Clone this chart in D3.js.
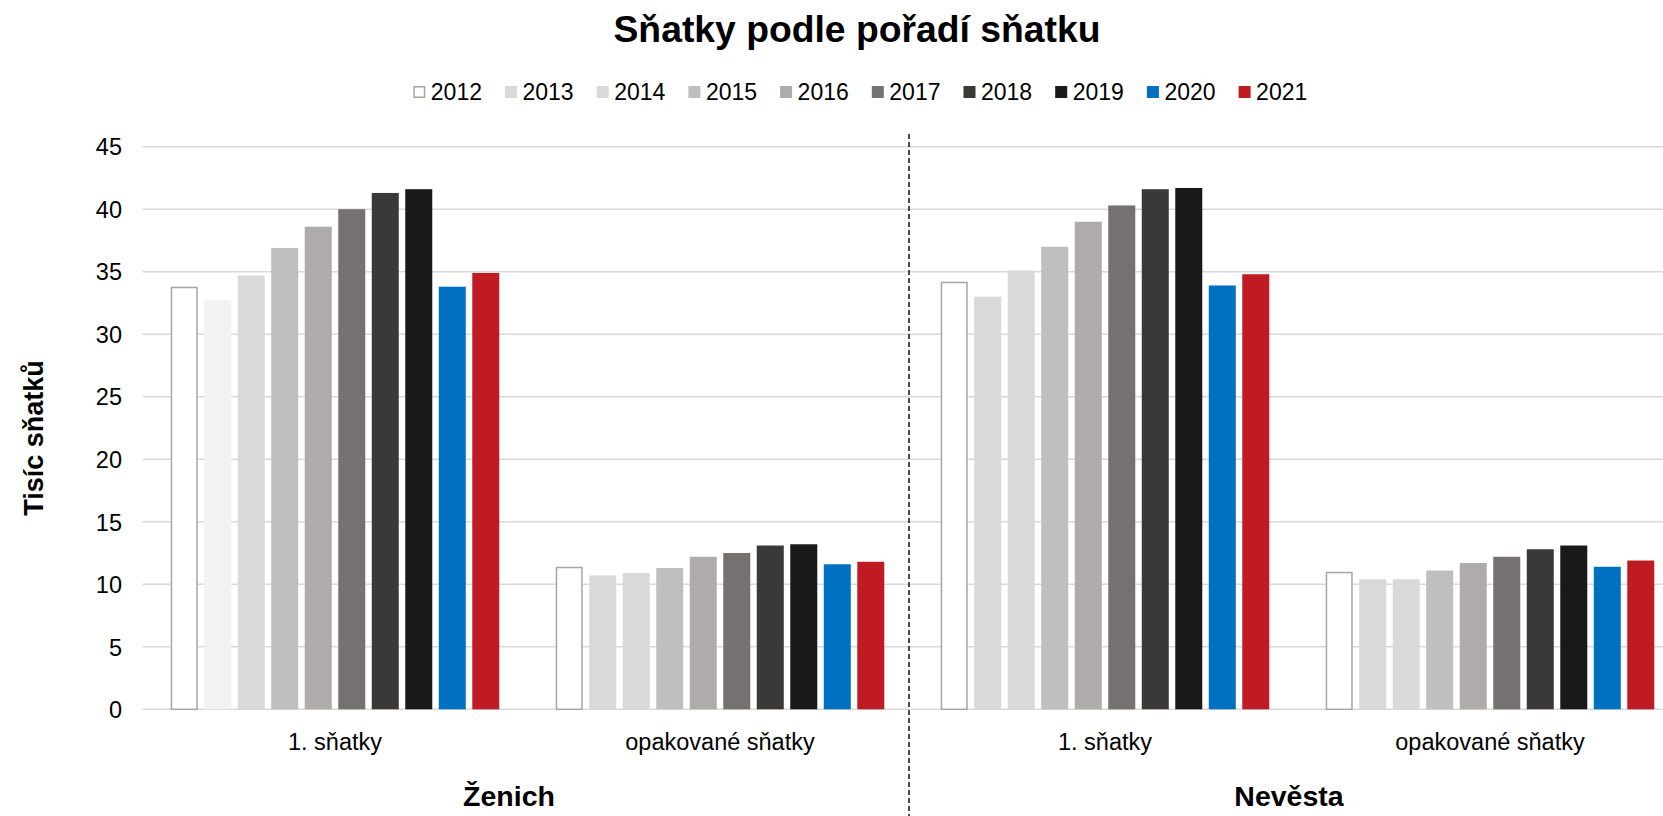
<!DOCTYPE html>
<html>
<head>
<meta charset="utf-8">
<script src="https://cdn.jsdelivr.net/npm/d3@7"></script>
<style>
  html, body { margin: 0; padding: 0; background: #fff; }
  svg { display: block; font-family: "Liberation Sans", Arial, sans-serif; }
</style>
</head>
<body>
<svg id="chart" width="1663" height="816"></svg>
<script>
// ---- data ----
const years = ["2012","2013","2014","2015","2016","2017","2018","2019","2020","2021"];
const categories = ["Ženich|1. sňatky", "Ženich|opakované sňatky", "Nevěsta|1. sňatky", "Nevěsta|opakované sňatky"];
const categoryLabels = ["1. sňatky", "opakované sňatky", "1. sňatky", "opakované sňatky"];
const groups = ["Ženich", "Nevěsta"];
const zenichPrvni     = [33.8, 32.7, 34.7, 36.9, 38.6, 40.0, 41.3, 41.6, 33.8, 34.9];
const zenichOpakovane = [11.4, 10.7, 10.9, 11.3, 12.2, 12.5, 13.1, 13.2, 11.6, 11.8];
const nevestaPrvni    = [34.2, 33.0, 35.1, 37.0, 39.0, 40.3, 41.6, 41.7, 33.9, 34.8];
const nevestaOpakovane= [11.0, 10.4, 10.4, 11.1, 11.7, 12.2, 12.8, 13.1, 11.4, 11.9];
const yTicks = [0, 5, 10, 15, 20, 25, 30, 35, 40, 45];
const colors = ["#ffffff","#d9d9d9","#d9d9d9","#bfbfbf","#afabab","#767171","#3b3838","#191919","#0070c0","#c01b23"];
// one data point in the source has its own fill (2013, Ženich 1. sňatky)
const pointOverrides = [{cat: 0, year: 1, color: "#f2f2f2"}];

const seriesByCat = [zenichPrvni, zenichOpakovane, nevestaPrvni, nevestaOpakovane];

// ---- layout ----
const svg = d3.select("#chart");
const W = 1663, H = 816;
const plotLeft = 142.5, bandStep = 385;
const yTop = 146.7, yBottom = 709.3;

const x0 = d3.scaleBand().domain(categories).range([plotLeft, plotLeft + bandStep * categories.length]).paddingInner(0).paddingOuter(0);
const x1 = d3.scaleBand().domain(years).range([0, x0.bandwidth()]).paddingInner(0.194).paddingOuter(0.842);
const y = d3.scaleLinear().domain([0, 45]).range([yBottom, yTop]);

// gridlines
svg.append("g").selectAll("line").data(yTicks).join("line")
  .attr("x1", plotLeft).attr("x2", W)
  .attr("y1", d => y(d)).attr("y2", d => y(d))
  .attr("stroke", "#d9d9d9").attr("stroke-width", 1.5);

// y axis labels
const yAxis = d3.axisLeft(y).tickValues(yTicks).tickSize(0).tickPadding(0);
const yg = svg.append("g").attr("transform", `translate(122,0)`).call(yAxis);
yg.select(".domain").remove();
yg.selectAll("text").attr("font-size", 23.5).attr("fill", "#000")
  .attr("font-family", "'Liberation Sans', Arial, sans-serif").attr("dy", "0.35em");

// bars
const rows = [];
seriesByCat.forEach((vals, ci) => {
  vals.forEach((v, yi) => {
    const ov = pointOverrides.find(o => o.cat === ci && o.year === yi);
    rows.push({cat: categories[ci], year: years[yi], value: v, color: ov ? ov.color : colors[yi], yi});
  });
});
svg.append("g").selectAll("rect").data(rows).join("rect")
  .attr("x", d => x0(d.cat) + x1(d.year) + (d.yi === 0 ? 0.75 : 0))
  .attr("width", d => x1.bandwidth() - (d.yi === 0 ? 1.5 : 0))
  .attr("y", d => y(d.value) + (d.yi === 0 ? 0.75 : 0))
  .attr("height", d => yBottom - y(d.value) - (d.yi === 0 ? 0.75 : 0))
  .attr("fill", d => d.color)
  .attr("stroke", d => d.yi === 0 ? "#a6a6a6" : "none")
  .attr("stroke-width", 1.5);

// category labels
svg.append("g").selectAll("text").data(categories).join("text")
  .attr("x", d => x0(d) + x0.bandwidth() / 2)
  .attr("y", 750)
  .attr("text-anchor", "middle")
  .attr("font-size", 23.5)
  .text((d, i) => categoryLabels[i]);

// group labels
const groupX = [509, 1289];
svg.append("g").selectAll("text").data(groups).join("text")
  .attr("x", (d, i) => groupX[i])
  .attr("y", 806)
  .attr("text-anchor", "middle")
  .attr("font-size", 28.5)
  .attr("font-weight", "bold")
  .text(d => d);

// dashed separator
svg.append("line")
  .attr("x1", 909).attr("x2", 909).attr("y1", 134).attr("y2", H)
  .attr("stroke", "#111").attr("stroke-width", 1.5).attr("stroke-dasharray", "5,3");

// title
svg.append("text").attr("x", 857).attr("y", 42).attr("text-anchor", "middle")
  .attr("font-size", 37.3).attr("font-weight", "bold").text("Sňatky podle pořadí sňatku");

// y axis title
svg.append("text")
  .attr("transform", "translate(43,438) rotate(-90)")
  .attr("text-anchor", "middle")
  .attr("font-size", 27).attr("font-weight", "bold").text("Tisíc sňatků");

// legend
const legend = svg.append("g").selectAll("g").data(years).join("g")
  .attr("transform", (d, i) => `translate(${413.3 + i * 91.7},0)`);
legend.append("rect")
  .attr("x", (d, i) => i === 0 ? 0.75 : 0)
  .attr("y", (d, i) => i === 0 ? 86.75 : 86)
  .attr("width", (d, i) => i === 0 ? 10.5 : 12)
  .attr("height", (d, i) => i === 0 ? 10.5 : 12)
  .attr("fill", (d, i) => colors[i])
  .attr("stroke", (d, i) => i === 0 ? "#a6a6a6" : "none")
  .attr("stroke-width", 1.5);
legend.append("text").attr("x", 17.5).attr("y", 99.5)
  .attr("font-size", 23).text(d => d);
</script>
</body>
</html>
